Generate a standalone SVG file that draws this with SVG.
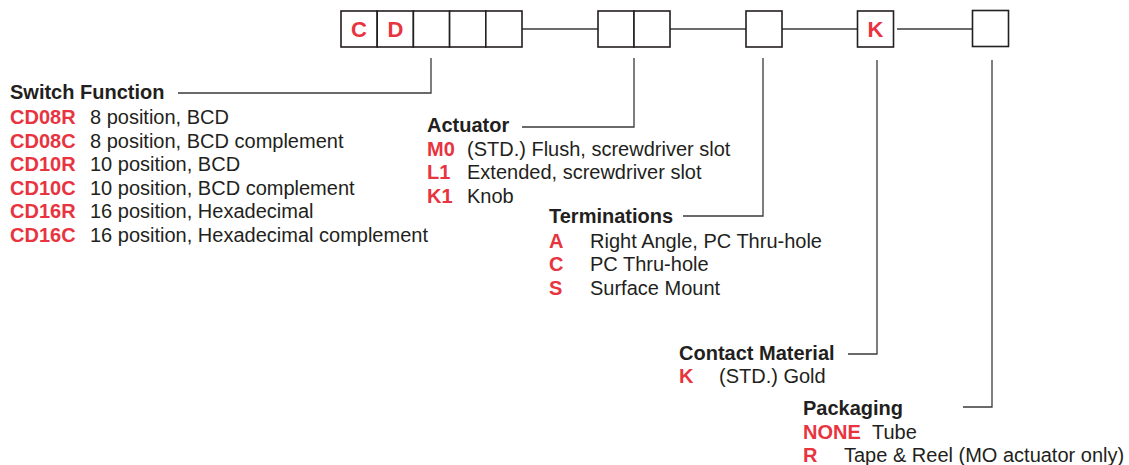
<svg xmlns="http://www.w3.org/2000/svg" width="1129" height="465" viewBox="0 0 1129 465">
<style>
.box{fill:#fff;stroke:#231f20;stroke-width:1.6}
.ln{fill:none;stroke:#3a3a3a;stroke-width:1.3}
text{font-family:"Liberation Sans",Arial,Helvetica,sans-serif;font-size:20px;fill:#231f20}
.h{font-weight:bold}
.r{fill:#e8343f;font-weight:bold}
.bl{fill:#e8343f;font-weight:bold;font-size:22px;text-anchor:middle}
</style>
<rect width="1129" height="465" fill="#fff"/>
<g id="connectors">
<line class="ln" x1="522" y1="29" x2="598" y2="29"/>
<line class="ln" x1="670" y1="29" x2="746" y2="29"/>
<line class="ln" x1="782" y1="29" x2="857" y2="29"/>
<line class="ln" x1="897" y1="29" x2="972" y2="29"/>
<polyline class="ln" points="431,58 431,93 178,93"/>
<polyline class="ln" points="634,58 634,127 522,127"/>
<polyline class="ln" points="763,58 763,216 683,216"/>
<polyline class="ln" points="877,60 877,354 848,354"/>
<polyline class="ln" points="992,60 992,407 963,407"/>
</g>
<g id="code-boxes">
<rect class="box" x="341" y="11" width="36.2" height="36"/>
<rect class="box" x="377.2" y="11" width="36.2" height="36"/>
<rect class="box" x="413.4" y="11" width="36.2" height="36"/>
<rect class="box" x="449.6" y="11" width="36.2" height="36"/>
<rect class="box" x="485.8" y="11" width="36.2" height="36"/>
<text class="bl" x="359" y="37">C</text>
<text class="bl" x="395.5" y="37">D</text>
</g>
<g id="actuator-boxes">
<rect class="box" x="598" y="11" width="36" height="36"/>
<rect class="box" x="634" y="11" width="36" height="36"/>
</g>
<g id="termination-box">
<rect class="box" x="746" y="11" width="36" height="36"/>
</g>
<g id="contact-box">
<rect class="box" x="857.5" y="11" width="36" height="36"/>
<text class="bl" x="875.5" y="37">K</text>
</g>
<g id="packaging-box">
<rect class="box" x="972.5" y="10.5" width="36" height="36"/>
</g>
<g id="switch-function">
<text class="h" x="10" y="99">Switch Function</text>
<text class="r" x="10" y="124">CD08R</text><text x="90" y="124">8 position, BCD</text>
<text class="r" x="10" y="147.5">CD08C</text><text x="90" y="147.5">8 position, BCD complement</text>
<text class="r" x="10" y="171">CD10R</text><text x="90" y="171">10 position, BCD</text>
<text class="r" x="10" y="194.5">CD10C</text><text x="90" y="194.5">10 position, BCD complement</text>
<text class="r" x="10" y="218">CD16R</text><text x="90" y="218">16 position, Hexadecimal</text>
<text class="r" x="10" y="241.5">CD16C</text><text x="90" y="241.5">16 position, Hexadecimal complement</text>
</g>
<g id="actuator">
<text class="h" x="427" y="132">Actuator</text>
<text class="r" x="427" y="155.5">M0</text><text x="467" y="155.5">(STD.) Flush, screwdriver slot</text>
<text class="r" x="427" y="179">L1</text><text x="467" y="179">Extended, screwdriver slot</text>
<text class="r" x="427" y="202.5">K1</text><text x="467" y="202.5">Knob</text>
</g>
<g id="terminations">
<text class="h" x="549" y="223">Terminations</text>
<text class="r" x="549" y="247.5">A</text><text x="590" y="247.5">Right Angle, PC Thru-hole</text>
<text class="r" x="549" y="271">C</text><text x="590" y="271">PC Thru-hole</text>
<text class="r" x="549" y="294.5">S</text><text x="590" y="294.5">Surface Mount</text>
</g>
<g id="contact-material">
<text class="h" x="679" y="360">Contact Material</text>
<text class="r" x="679" y="383">K</text><text x="719" y="383">(STD.) Gold</text>
</g>
<g id="packaging">
<text class="h" x="803" y="415">Packaging</text>
<text class="r" x="803" y="439">NONE</text><text x="872" y="439">Tube</text>
<text class="r" x="803" y="462">R</text><text x="844" y="462">Tape &amp; Reel (MO actuator only)</text>
</g>
</svg>
